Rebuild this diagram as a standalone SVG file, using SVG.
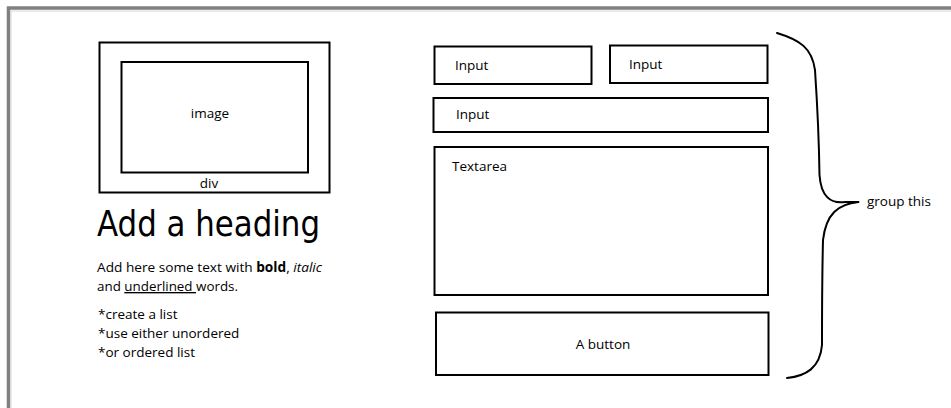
<svg xmlns="http://www.w3.org/2000/svg" width="951" height="408" viewBox="0 0 951 408">
  <style>
    .box { fill: none; stroke: #000; stroke-width: 2; }
    .lbl { font-family: "Open Sans", "Noto Sans", sans-serif; font-size: 13.5px; fill: #000; }
    .head { font-family: "DejaVu Sans", sans-serif; font-size: 36px; fill: #000; }
    .brace { fill: none; stroke: #000; stroke-width: 2; stroke-linecap: round; }
  </style>
  <rect width="951" height="408" fill="#fff"/>
  <!-- page frame, open to the right and bottom -->
  <g id="frame">
    <rect x="8.5" y="8" width="1000" height="1000" fill="none" stroke="#808080" stroke-width="3.5"/>
    <path d="M11 1008 V11 H1000" fill="none" stroke="#d6d6d6" stroke-width="1"/>
  </g>

  <!-- left column -->
  <g id="div-box">
    <rect class="box" x="99.5" y="42.5" width="230" height="150"/>
    <text class="lbl" x="209" y="188" text-anchor="middle">div</text>
  </g>
  <g id="image-box">
    <rect class="box" x="121.5" y="62" width="186.5" height="110.5"/>
    <text class="lbl" x="210" y="118" text-anchor="middle">image</text>
  </g>
  <g id="heading">
    <text class="head" x="97" y="236" textLength="223" lengthAdjust="spacingAndGlyphs">Add a heading</text>
  </g>
  <g id="paragraph">
    <text class="lbl" x="97" y="272" textLength="225" lengthAdjust="spacingAndGlyphs">Add here some text with <tspan font-weight="bold">bold</tspan>, <tspan font-style="italic">italic</tspan></text>
    <text class="lbl" x="97" y="291" textLength="141" lengthAdjust="spacingAndGlyphs">and <tspan text-decoration="underline">underlined </tspan>words.</text>
  </g>
  <g id="list">
    <text class="lbl" x="98" y="319">*create a list</text>
    <text class="lbl" x="98" y="338">*use either unordered</text>
    <text class="lbl" x="98" y="357">*or ordered list</text>
  </g>

  <!-- form column -->
  <g id="input-1">
    <rect class="box" x="434.5" y="46.5" width="157" height="37.5"/>
    <text class="lbl" x="455" y="70">Input</text>
  </g>
  <g id="input-2">
    <rect class="box" x="610" y="45.5" width="157.5" height="37.5"/>
    <text class="lbl" x="629" y="68.5">Input</text>
  </g>
  <g id="input-3">
    <rect class="box" x="433.5" y="98" width="334.5" height="34"/>
    <text class="lbl" x="456" y="118.5">Input</text>
  </g>
  <g id="textarea">
    <rect class="box" x="434.5" y="147" width="333.5" height="148"/>
    <text class="lbl" x="452" y="171">Textarea</text>
  </g>
  <g id="button">
    <rect class="box" x="436" y="312.5" width="332.5" height="62.5"/>
    <text class="lbl" x="603" y="349" text-anchor="middle">A button</text>
  </g>

  <!-- curly brace gathering the form fields -->
  <g id="connectors">
    <path class="brace" d="M777 33 C800 40 812 48 815 70 C817 100 819 140 819.5 175 C821 196 830 204 845 202 L858.5 202 M858.5 202 C838 204 826 214 823 240 C822 280 822 320 822 345 C820 368 806 376 787 378"/>
  </g>
  <g id="brace-label">
    <text class="lbl" x="867" y="206">group this</text>
  </g>
</svg>
